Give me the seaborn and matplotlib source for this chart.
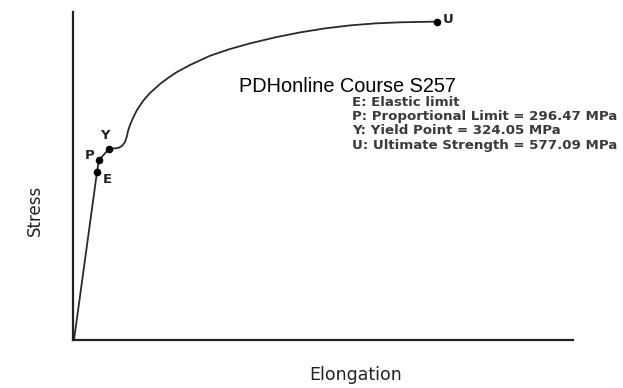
import matplotlib
matplotlib.use("Agg")
import matplotlib.pyplot as plt
import seaborn as sns
import pandas as pd

# Schematic stress-strain curve (arbitrary units)
elongation = [1, 24, 26, 36, 40, 45, 49, 52, 54, 55, 57, 60, 64, 70, 77, 87, 95,
              104, 117, 137, 157, 177, 202, 227, 252, 277, 302, 327, 364]
stress = [0, 168, 180, 191, 191.5, 192, 194, 198, 204, 209, 215, 222, 230, 239, 247,
          256, 262, 268, 275, 284.2, 291, 296.6, 302.6, 307.6, 311.6, 314.6, 316.6,
          317.7, 318.4]

# Key points on the curve
point_labels = ["E", "P", "Y", "U"]
point_x = [24, 26, 36, 364]
point_y = [168, 180, 191, 318.4]

notes = [
    "E: Elastic limit",
    "P: Proportional Limit = 296.47 MPa",
    "Y: Yield Point = 324.05 MPa",
    "U: Ultimate Strength = 577.09 MPa",
]

sns.set_style("white")
plt.rcParams["font.family"] = ["DejaVu Sans"]

fig = plt.figure(figsize=(6.23, 3.88), dpi=100)
ax = fig.add_axes([73 / 623, 1 - 340 / 388, 500 / 623, 328 / 388])

curve = pd.DataFrame({"elongation": elongation, "stress": stress})
pts = pd.DataFrame({"x": point_x, "y": point_y, "label": point_labels})

sns.lineplot(data=curve, x="elongation", y="stress", sort=False,
             color="#2a2a2a", linewidth=1.3, ax=ax,
             solid_joinstyle="round", solid_capstyle="round")
sns.scatterplot(data=pts, x="x", y="y", color="black", s=30,
                edgecolor="black", linewidth=0, ax=ax, zorder=3)

ax.set_xlim(0, 500)
ax.set_ylim(0, 328)
ax.set_xticks([])
ax.set_yticks([])
sns.despine(ax=ax)
for side in ("left", "bottom"):
    ax.spines[side].set_color("#222222")
    ax.spines[side].set_linewidth(1.6)

# Point letters
offsets = {"E": (4.5, -10), "P": (-10, -1.5), "Y": (-6, 5), "U": (4.5, -3)}
for lab, x, y in zip(point_labels, point_x, point_y):
    dx, dy = offsets[lab]
    ax.annotate(lab, (x, y), xytext=(dx, dy), textcoords="offset points",
                fontsize=9.5, fontweight="bold", color="#222222", va="bottom", ha="left")

ax.text((347 - 73) / 500, (340 - 87) / 328, "PDHonline Course S257",
        transform=ax.transAxes, ha="center", va="center",
        fontsize=14.3, family="Liberation Sans", color="black")

for i, line in enumerate(notes):
    ax.text((352 - 73) / 500, (340 - (102 + i * 14.5)) / 328, line,
            transform=ax.transAxes, ha="left", va="center",
            fontsize=9.65, fontweight="bold", color="#3a3a3a")

ax.set_xlabel("Elongation", fontsize=12.5, color="#222222")
ax.xaxis.set_label_coords((356 - 73) / 500, -(375 - 340) / 328)
ax.xaxis.label.set_va("center")
ax.set_ylabel("Stress", fontsize=12, color="#222222")
ax.yaxis.set_label_coords(-(73 - 35) / 500, (340 - 210) / 328)
ax.yaxis.label.set_va("center")

fig.savefig("out.png", dpi=100)
